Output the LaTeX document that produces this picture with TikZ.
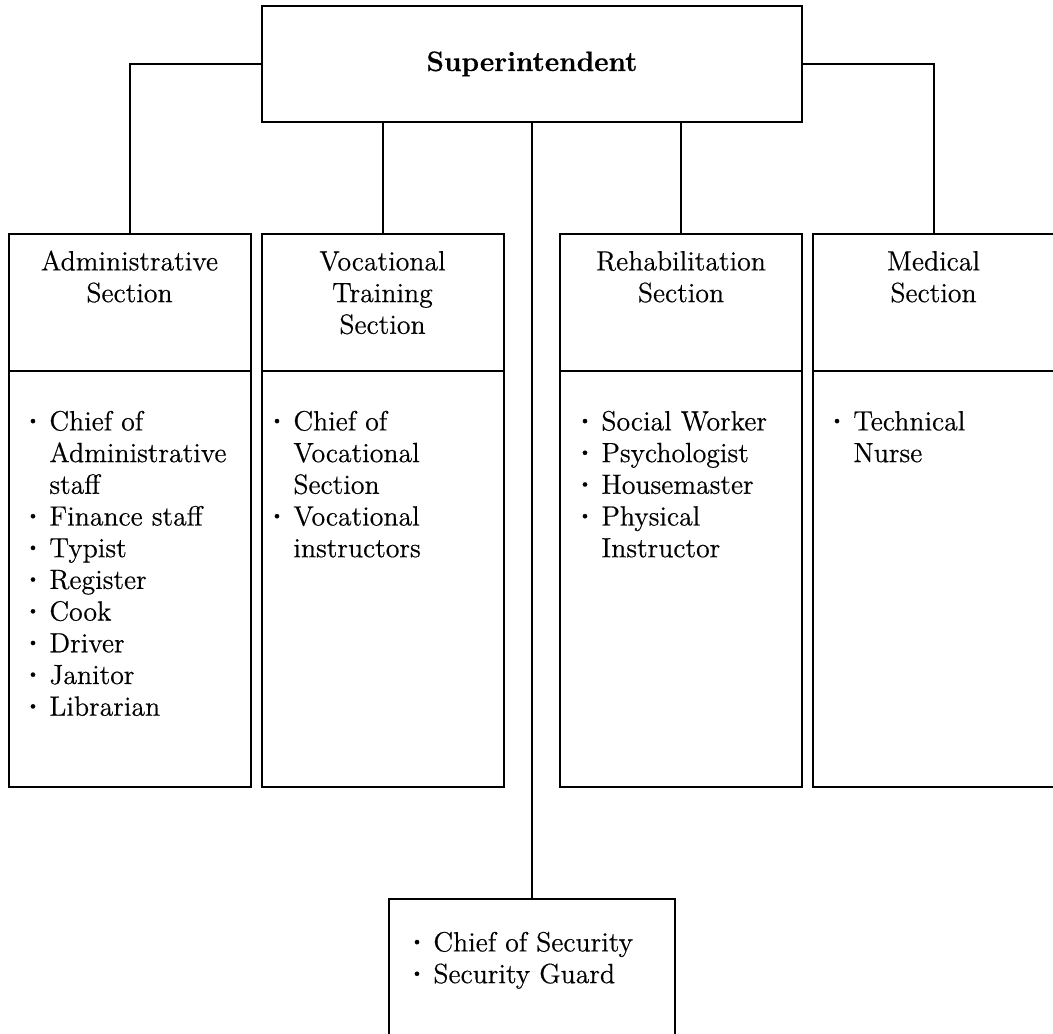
\documentclass[tikz,border=0pt]{standalone}
\usepackage{fontspec}
\setmainfont{Latin Modern Roman}[FakeBold=0.5]
% bullet mark and hanging indent for the staff lists
\newcommand\lbul{\makebox[11.5pt][l]{\raisebox{3.0pt}{\fontsize{7.5}{7.5}\selectfont\textbullet}}}
\newcommand\lind{\hspace*{11.5pt}}
\begin{document}
\begin{tikzpicture}[x=0.5pt,y=-0.5pt,
  frame/.style={draw, line width=1pt, inner sep=0pt},
  secframe/.style={frame, minimum width=121pt},
  link/.style={line width=1pt},
  txt/.style={inner sep=0pt, font=\fontsize{13.9}{15.85}\selectfont},
  head/.style={txt, align=center, anchor=north},
  stafflist/.style={txt, align=left, anchor=north west}]
\useasboundingbox (0,0) rectangle (1053,1033);

% top office
\node[frame, minimum width=270pt, minimum height=58pt] (sup) at (532,64) {};
\node[txt, font=\fontsize{14}{16}\selectfont\bfseries, anchor=base] (supt) at (532,71) {Superintendent};

% section headers
\node[secframe, minimum height=68.5pt] (hdrA) at (129.5,302.5) {};
\node[secframe, minimum height=68.5pt] (hdrV) at (382.5,302.5) {};
\node[secframe, minimum height=68.5pt] (hdrR) at (681,302.5) {};
\node[secframe, minimum height=68.5pt] (hdrM) at (933.5,302.5) {};

% section staff boxes
\node[secframe, minimum height=208pt] (boxA) at (129.5,579) {};
\node[secframe, minimum height=208pt] (boxV) at (382.5,579) {};
\node[secframe, minimum height=208pt] (boxR) at (681,579) {};
\node[secframe, minimum height=208pt] (boxM) at (933.5,579) {};

% security box
\node[frame, minimum width=143pt, minimum height=73pt] (sec) at (532,972) {};

% header texts
\node[head] (tA) at (129.5,247.8) {\strut Administrative\\Section};
\node[head] (tV) at (382.5,247.8) {\strut Vocational\\Training\\Section};
\node[head] (tR) at (681,247.8) {\strut Rehabilitation\\Section};
\node[head] (tM) at (933.5,247.8) {\strut Medical\\Section};

% staff lists
\node[stafflist] (lA) at (26,407.8) {\strut\lbul Chief of\\\lind Administrative\\\lind staff\\\lbul Finance staff\\\lbul Typist\\\lbul Register\\\lbul Cook\\\lbul Driver\\\lbul Janitor\\\lbul Librarian};
\node[stafflist] (lV) at (270,407.8) {\strut\lbul Chief of\\\lind Vocational\\\lind Section\\\lbul Vocational\\\lind instructors};
\node[stafflist] (lR) at (578,407.8) {\strut\lbul Social Worker\\\lbul Psychologist\\\lbul Housemaster\\\lbul Physical\\\lind Instructor};
\node[stafflist] (lM) at (830,407.8) {\strut\lbul Technical\\\lind Nurse};
\node[stafflist] (lS) at (410,928.8) {\strut\lbul Chief of Security\\\lbul Security Guard};

% reporting lines
\draw[link] (sup.west) -| (hdrA.north);
\draw[link] (sup.east) -| (hdrM.north);
\draw[link] (sup.south -| hdrV.north) -- (hdrV.north);
\draw[link] (sup.south) -- (sec.north);
\draw[link] (sup.south -| hdrR.north) -- (hdrR.north);
\end{tikzpicture}
\end{document}
